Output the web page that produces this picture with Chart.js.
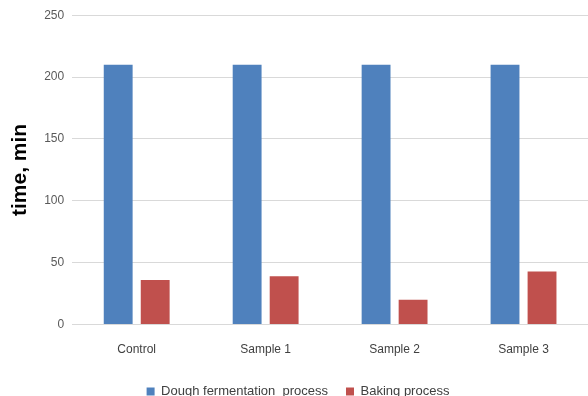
<!DOCTYPE html>
<html>
<head>
<meta charset="utf-8">
<script src="https://cdn.jsdelivr.net/npm/chart.js@4/dist/chart.umd.min.js"></script>
<style>
  html, body { margin: 0; padding: 0; background: #fff; }
  #wrap { width: 588px; height: 396px; position: relative; }
</style>
</head>
<body>
<div id="wrap"><canvas id="chart"></canvas></div>
<script>
// Chart data
const categories = ['Control', 'Sample 1', 'Sample 2', 'Sample 3'];
const doughFermentation = [210, 210, 210, 210];
const bakingProcess = [36, 39, 20, 43];
const yTicks = [0, 50, 100, 150, 200, 250];

const ctx = document.getElementById('chart').getContext('2d');
new Chart(ctx, {
    type: 'bar',
    data: {
        labels: categories,
        datasets: [{
            label: 'Dough fermentation  process',
            data: doughFermentation,
            backgroundColor: '#4F81BD',
            categoryPercentage: 0.574,
            barPercentage: 0.78
        }, {
            label: 'Baking process',
            data: bakingProcess,
            backgroundColor: '#C0504D',
            categoryPercentage: 0.574,
            barPercentage: 0.78
        }]
    },
    options: {
        responsive: true,
        maintainAspectRatio: false,
        animation: false,
        layout: {
            padding: { top: -4, right: 0, left: 8, bottom: -12 }
        },
        plugins: {
            legend: {
                position: 'bottom',
                labels: {
                    boxWidth: 8,
                    boxHeight: 8,
                    color: '#404040',
                    padding: 18,
                    font: { family: 'Liberation Sans', size: 13 }
                }
            },
            tooltip: { enabled: false }
        },
        scales: {
            y: {
                min: 0,
                max: 250,
                afterBuildTicks: (axis) => {
                    axis.ticks = yTicks.map(v => ({ value: v }));
                },
                border: { display: false },
                grid: { color: '#d9d9d9', drawTicks: false },
                ticks: {
                    color: '#595959',
                    padding: 8,
                    font: { family: 'Liberation Sans', size: 12 }
                },
                title: {
                    display: true,
                    text: 'time, min',
                    color: '#000',
                    padding: { top: 0, bottom: 3 },
                    font: { family: 'Liberation Sans', size: 21, weight: 'bold' }
                }
            },
            x: {
                border: { display: false },
                grid: { display: false },
                ticks: {
                    color: '#404040',
                    padding: 10,
                    font: { family: 'Liberation Sans', size: 12 }
                }
            }
        }
    }
});
</script>
</body>
</html>
